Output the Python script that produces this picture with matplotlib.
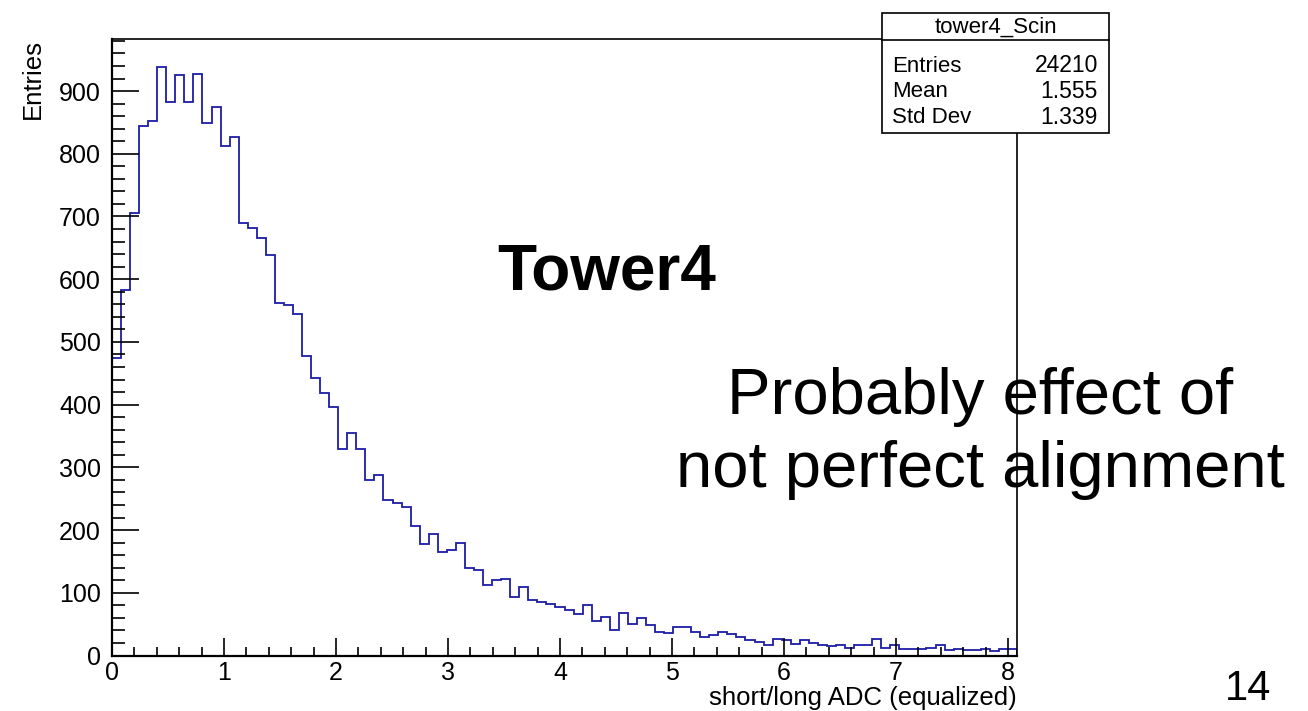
import numpy as np
import matplotlib
matplotlib.use("Agg")
import matplotlib.pyplot as plt
from matplotlib.patches import Rectangle
from matplotlib.lines import Line2D
from matplotlib.ticker import MultipleLocator

plt.rcParams['font.family'] = ['Liberation Sans', 'DejaVu Sans']

# histogram tower4_Scin : 100 bins between 0 and 8.08
x_min = 0.0
x_max = 8.08
counts = [
    475, 583, 705, 844, 853, 938, 883, 925, 882, 927,
    849, 874, 813, 826, 690, 682, 666, 639, 562, 559,
    544, 478, 443, 419, 397, 330, 354, 330, 280, 288,
    248, 243, 236, 207, 177, 194, 165, 168, 179, 140,
    136, 113, 120, 122, 93, 110, 88, 85, 82, 77,
    73, 66, 81, 55, 62, 41, 68, 50, 60, 49,
    37, 36, 46, 45, 37, 29, 32, 37, 35, 29,
    25, 21, 17, 27, 25, 19, 25, 20, 17, 15,
    16, 12, 17, 17, 26, 12, 16, 11, 10, 10,
    12, 16, 9, 10, 8, 8, 10, 7, 10, 11,
]
hist_name = "tower4_Scin"
stat_names = ["Entries", "Mean", "Std Dev"]
stat_values = ["24210", "1.555", "1.339"]

edges = np.linspace(x_min, x_max, len(counts) + 1)

fig = plt.figure(figsize=(13.08, 7.11), dpi=100)
ax = fig.add_axes([112/1308, 1 - 655.5/711, (1017 - 112)/1308, (655.5 - 39)/711])

ax.stairs(counts, edges, color='#1c1ca6', linewidth=1.3)

ax.set_xlim(x_min, x_max)
ax.set_ylim(0, 983)

ax.xaxis.set_major_locator(MultipleLocator(1))
ax.xaxis.set_minor_locator(MultipleLocator(0.2))
ax.yaxis.set_major_locator(MultipleLocator(100))
ax.yaxis.set_minor_locator(MultipleLocator(20))
ax.tick_params(axis='x', which='major', direction='in', length=13, width=1.2, labelsize=18, pad=4)
ax.tick_params(axis='x', which='minor', direction='in', length=6.5, width=1.2)
ax.tick_params(axis='y', which='major', direction='in', length=19.5, width=1.2, labelsize=18, pad=8)
ax.tick_params(axis='y', which='minor', direction='in', length=9.5, width=1.2)
for s in ax.spines.values():
    s.set_linewidth(1.2)
    s.set_zorder(5)
ax.spines['left'].set_linewidth(1.6)
ax.spines['bottom'].set_linewidth(1.6)

ax.set_xlabel("short/long ADC (equalized)", fontsize=18.5)
ax.xaxis.set_label_coords(1.0, -0.049)
ax.xaxis.label.set_horizontalalignment('right')
ax.set_ylabel("Entries", fontsize=18.5)
ax.yaxis.set_label_coords((21 - 112)/905, 1.0)
ax.yaxis.label.set(ha='right', va='top')

# stats box
bx0, bx1 = 882/1308, 1109/1308
by0, by1 = 1 - 133/711, 1 - 13/711
fig.patches.append(Rectangle((bx0, by0), bx1 - bx0, by1 - by0, transform=fig.transFigure,
                             facecolor='white', edgecolor='black', linewidth=1.2, zorder=10))
fig.lines.append(Line2D([bx0, bx1], [1 - 39.5/711] * 2, transform=fig.transFigure,
                        color='black', linewidth=1.2, zorder=11))
fig.text((bx0 + bx1) / 2, 1 - 27/711, hist_name, ha='center', va='center', fontsize=16, zorder=12)
for i, (n, v) in enumerate(zip(stat_names, stat_values)):
    yy = 1 - (66 + i * 25.8)/711
    fig.text(bx0 + 10/1308, yy, n, ha='left', va='center', fontsize=16, zorder=12)
    fig.text(bx1 - 11/1308, yy, v, ha='right', va='center', fontsize=16.5, zorder=12)

# slide annotations
fig.text(607/1308, 1 - 273/711, "Tower4", ha='center', va='center', fontsize=46, fontweight='bold')
fig.text(980/1308, 1 - 397/711, "Probably effect of", ha='center', va='center', fontsize=47)
fig.text(980/1308, 1 - 470/711, "not perfect alignment", ha='center', va='center', fontsize=47)
fig.text(1248/1308, 1 - 689/711, "14", ha='center', va='center', fontsize=30)

fig.savefig("out.png", dpi=100)
